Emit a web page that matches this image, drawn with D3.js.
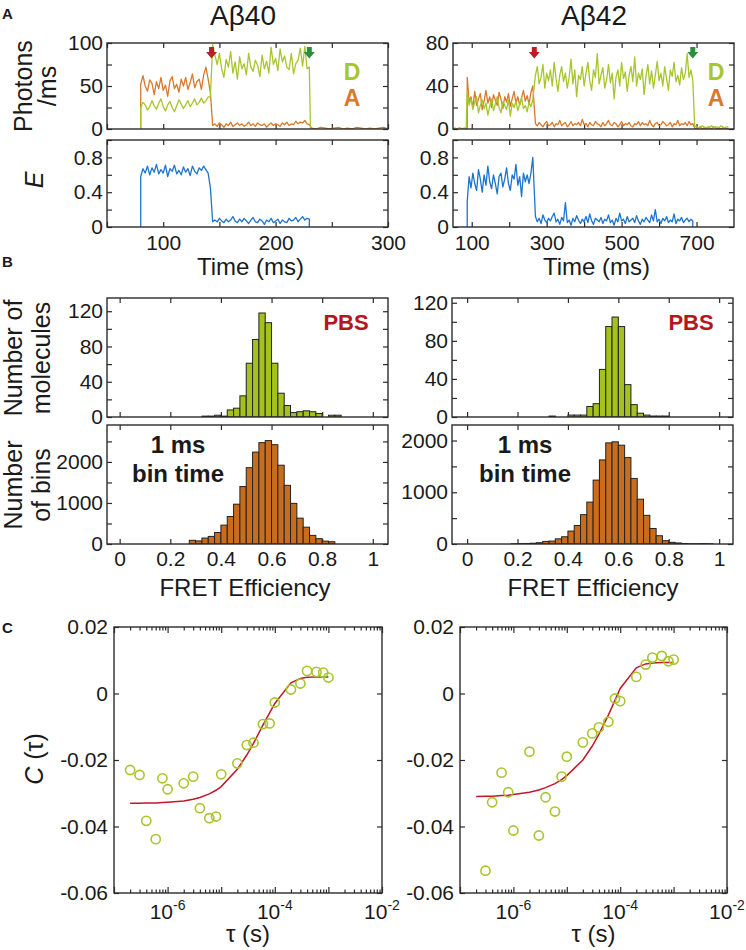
<!DOCTYPE html>
<html lang="en">
<head>
<meta charset="UTF-8">
<title>Abeta40 / Abeta42 single-molecule FRET</title>
<script src="https://cdnjs.cloudflare.com/ajax/libs/d3/7.8.5/d3.min.js"></script>
<style>
  body { margin: 0; background: #fff; }
  svg { display: block; font-family: "Liberation Sans", Arial, sans-serif; }
  .frame { fill: none; stroke: #2b2b2b; stroke-width: 1.4; }
</style>
</head>
<body>
<svg id="fig" width="746" height="950"></svg>
<script>
// ---- panel A: photon traces (photons/ms) and FRET efficiency ----
// Abeta40, 2 ms steps
const on40 = 80, bleachA40 = 143, bleachD40 = 230;
const d40Pre = [25, 31, 28, 22, 26, 33, 27, 23, 30, 35, 26, 21, 28, 32, 25, 20, 27, 34, 29, 24,
                28, 33, 26, 30, 35, 28, 31, 36, 30, 33, 37, 38];
const a40Pre = [52, 62, 50, 44, 57, 53, 40, 55, 47, 60, 45, 51, 38, 56, 61, 47, 52, 43, 58, 50,
                60, 46, 54, 64, 48, 55, 58, 46, 63, 72, 58, 42];
const d40Post = [98, 86, 75, 88, 70, 60, 81, 72, 90, 65, 78, 58, 84, 70, 76, 63, 88, 72, 67, 80,
                 74, 61, 86, 70, 79, 65, 95, 75, 82, 68, 93, 78, 85, 72, 69, 88, 64, 76, 80, 94,
                 73, 96, 70, 72];
const a40Post = [4, 6, 3, 7, 5, 2, 6, 4, 8, 3, 5, 7, 4, 6, 3, 5, 8, 4, 6, 3,
                 7, 5, 4, 6, 2, 5, 7, 4, 6, 5, 3, 7, 5, 8, 4, 6, 5, 9, 6, 8,
                 7, 10, 6, 5];
const a40Tail = [1, 0, 2, 1, 0, 1, 2, 0, 1, 0, 2, 1, 0, 1, 0, 1, 2, 0];
const e40Pre = [0.58, 0.67, 0.62, 0.70, 0.60, 0.68, 0.63, 0.72, 0.61, 0.66, 0.62, 0.71, 0.58, 0.67, 0.64, 0.71,
                0.61, 0.65, 0.60, 0.69, 0.63, 0.67, 0.59, 0.70, 0.64, 0.61, 0.68, 0.65, 0.70, 0.66, 0.62, 0.45];
const e40Post = [0.06, 0.08, 0.06, 0.10, 0.07, 0.05, 0.09, 0.06, 0.08, 0.12, 0.07, 0.05, 0.09, 0.06, 0.10,
                 0.07, 0.04, 0.08, 0.11, 0.06, 0.05, 0.09, 0.07, 0.03, 0.08, 0.06, 0.10, 0.05, 0.07, 0.09,
                 0.04, 0.08, 0.06, 0.05, 0.10, 0.07, 0.08, 0.11, 0.06, 0.09, 0.12, 0.08, 0.10, 0.09];

// Abeta42, 5 ms steps
const on42 = 88, bleachA42 = 267, bleachD42 = 690;
const d42Lead = [0, 1, 0, 1, 1, 0, 1, 0];
const d42Pre = [35, 22, 28, 18, 25, 30, 15, 22, 27, 19, 24, 13, 21, 28, 17, 23, 30, 20,
                15, 25, 22, 18, 27, 12, 24, 20, 26, 17, 23, 29, 19, 22, 16, 25, 21, 27];
const a42Pre = [48, 25, 30, 20, 35, 22, 28, 33, 18, 26, 36, 24, 30, 20, 32, 27, 22, 34,
                28, 19, 30, 25, 33, 21, 28, 35, 24, 30, 22, 29, 36, 26, 31, 23, 34, 40];
const d42Post = [50, 58, 42, 48, 60, 38, 52, 45, 55, 40, 62, 47, 35, 50, 58, 44, 52, 38, 48, 65,
                 42, 55, 30, 50, 46, 58, 40, 52, 62, 45, 36, 55, 48, 70, 42, 50, 57, 38, 46, 60,
                 43, 52, 28, 48, 55, 40, 62, 47, 53, 35, 50, 58, 44, 67, 40, 52, 46, 56, 32, 49,
                 60, 42, 54, 38, 50, 63, 45, 52, 40, 58, 47, 36, 55, 49, 62, 44, 50, 41, 57, 46,
                 52, 70, 48, 55, 45];
const a42Post = [5, 3, 6, 4, 2, 5, 7, 3, 4, 6, 2, 5, 4, 8, 3, 5, 6, 2, 4, 7,
                 3, 5, 4, 6, 3, 9, 4, 5, 2, 6, 4, 3, 7, 5, 4, 2, 6, 3, 5, 8,
                 4, 3, 6, 5, 2, 4, 7, 3, 5, 4, 6, 3, 2, 5, 4, 7, 3, 6, 4, 5,
                 3, 8, 4, 2, 5, 6, 3, 4, 7, 5, 3, 4, 6, 2, 5, 4, 8, 3, 5, 4,
                 6, 3, 7, 4, 5];
const d42Tail = [3, 2, 1, 2, 3, 2, 1, 2, 2, 3, 1, 2, 2, 1, 3, 2, 1, 2, 2];
const a42Tail = [1, 0, 1, 2, 0, 1, 0, 1, 1, 0, 2, 1, 0, 1, 0, 1, 1, 0, 1];
const e42Pre = [0.30, 0.58, 0.45, 0.62, 0.50, 0.42, 0.66, 0.55, 0.40, 0.60, 0.48, 0.70,
                0.52, 0.44, 0.60, 0.50, 0.38, 0.58, 0.62, 0.46, 0.55, 0.68, 0.50, 0.42,
                0.60, 0.55, 0.72, 0.48, 0.58, 0.35, 0.62, 0.52, 0.60, 0.50, 0.62, 0.80];
const e42Post = [0.12, 0.06, 0.10, 0.04, 0.14, 0.08, 0.05, 0.10, 0.07, 0.12, 0.16, 0.06, 0.09, 0.03, 0.11,
                 0.07, 0.28, 0.05, 0.08, 0.02, 0.10, 0.06, 0.13, 0.08, 0.04, 0.09, 0.06, 0.12, 0.05, 0.15,
                 0.07, 0.03, 0.10, 0.08, 0.06, 0.11, 0.04, 0.09, 0.07, 0.14, 0.05, 0.08, 0.02, 0.10, 0.06,
                 0.16, 0.07, 0.09, 0.04, 0.12, 0.06, 0.08, 0.10, 0.05, 0.13, 0.07, 0.03, 0.09, 0.06, 0.11,
                 0.08, 0.05, 0.14, 0.07, 0.20, 0.06, 0.09, 0.04, 0.10, 0.07, 0.12, 0.05, 0.08, 0.06, 0.15,
                 0.04, 0.09, 0.07, 0.11, 0.05, 0.08, 0.10, 0.06, 0.09, 0.07];

// ---- panel B: FRET efficiency histograms, bin width 0.025 ----
const binW = 0.025;
const pbs40Lo = 0.325, pbs40 = [1, 1, 2, 1, 8, 10, 24, 61, 88, 118, 107, 61, 27, 13, 5, 6, 7, 6, 4, 0, 2, 2];
const ms40Lo = 0.275, ms40 = [90, 75, 145, 185, 280, 460, 670, 970, 1400, 1860, 2240, 2470, 2520, 2420,
                              1920, 1430, 990, 630, 410, 210, 130, 70, 55];
const pbs42Lo = 0.325, pbs42 = [1, 0, 0, 2, 2, 2, 11, 14, 50, 95, 105, 95, 34, 13, 4, 2, 1, 1, 1];
const ms42Lo = 0.175, ms42 = [5, 8, 10, 15, 25, 50, 57, 100, 140, 250, 357, 567, 810, 1235, 1625, 1955,
                              1975, 1910, 1670, 1267, 866, 554, 300, 160, 64, 32, 20, 10, 5, 5, 8, 5];

// ---- panel C: FRET correlation C(tau) ----
const tauFit = [2e-7, 3e-7, 4e-7, 6e-7, 8e-7, 1e-6, 2e-6, 3e-6, 4e-6, 6e-6, 8e-6, 1e-5,
                2e-5, 3e-5, 4e-5, 6e-5, 8e-5, 1e-4, 2e-4, 3e-4, 4e-4, 6e-4, 8e-4, 1e-3];
const tau40 = tauFit;
const c40 = [-0.0230, -0.0245, -0.0383, -0.0438, -0.0255, -0.0288, -0.0270, -0.0250, -0.0345, -0.0375,
             -0.0370, -0.0243, -0.0210, -0.0155, -0.0148, -0.0092, -0.0090, -0.0027, 0.0012, 0.0030,
             0.0068, 0.0065, 0.0063, 0.0048];
const fit40 = [-0.0330, -0.0330, -0.0329, -0.0329, -0.0328, -0.0327, -0.0323, -0.0318, -0.0313, -0.0302,
               -0.0291, -0.0280, -0.0228, -0.0185, -0.0150, -0.0095, -0.0058, -0.0030, 0.0032, 0.0045,
               0.0049, 0.0050, 0.0050, 0.0050];
const tau42 = tauFit.slice(1);
const c42 = [-0.0533, -0.0327, -0.0238, -0.0297, -0.0412, -0.0175, -0.0427, -0.0312, -0.0355, -0.0250,
             -0.0190, -0.0147, -0.0120, -0.0102, -0.0085, -0.0015, -0.0023, 0.0050, 0.0087, 0.0108,
             0.0113, 0.0097, 0.0102];
const fit42 = [-0.0310, -0.0309, -0.0309, -0.0307, -0.0306, -0.0304, -0.0297, -0.0290, -0.0283, -0.0271,
               -0.0259, -0.0247, -0.0200, -0.0158, -0.0122, -0.0065, -0.0020, 0.0015, 0.0077, 0.0089,
               0.0092, 0.0093, 0.0093, 0.0093];

const green = "#a7c62c", orange = "#d8792b", blue = "#1d74cc";
const histGreen = "#a3c21f", histOrange = "#c96d1d", fitRed = "#c0182a";
const ink = "#2b2b2b";
const tickFont = 21, titleFont = 24;

const svg = d3.select("#fig");
let clipN = 0;

const seg = (t0, dt, vals) => vals.map((v, i) => ({ t: t0 + i * dt, v }));
const only = list => v => list.some(s => Math.abs(s - v) < 1e-9) ? String(+v.toFixed(3)) : "";

function tidy(g) {
  g.attr("font-family", null).attr("font-size", tickFont).attr("color", ink);
  g.select(".domain").remove();
  g.selectAll("line").attr("stroke-width", 1.2);
  g.selectAll("text").attr("fill", "#1a1a1a");
}

function axes(x, y, o) {
  const [x0, x1] = x.range(), [yb, yt] = y.range();
  const len = o.len || 5;
  svg.append("g").attr("transform", `translate(0,${yb})`)
    .call(d3.axisBottom(x).tickValues(o.xTicks).tickSize(-len).tickPadding(o.xPad || 8).tickFormat(o.xFmt || ""))
    .call(tidy);
  svg.append("g").attr("transform", `translate(0,${yt})`)
    .call(d3.axisTop(x).tickValues(o.xTicks).tickSize(-len).tickFormat(""))
    .call(tidy);
  svg.append("g").attr("transform", `translate(${x0},0)`)
    .call(d3.axisLeft(y).tickValues(o.yTicks).tickSize(-5).tickPadding(o.yPad || 4).tickFormat(o.yFmt || ""))
    .call(tidy);
  svg.append("g").attr("transform", `translate(${x1},0)`)
    .call(d3.axisRight(y).tickValues(o.yTicks).tickSize(-5).tickFormat(""))
    .call(tidy);
}

function frame(x, y) {
  const [x0, x1] = x.range(), [yb, yt] = y.range();
  svg.append("rect").attr("class", "frame")
    .attr("x", x0).attr("y", yt).attr("width", x1 - x0).attr("height", yb - yt);
}

function clip(x, y) {
  const [x0, x1] = x.range(), [yb, yt] = y.range();
  const id = "clip" + (clipN++);
  svg.append("clipPath").attr("id", id).append("rect")
    .attr("x", x0).attr("y", yt).attr("width", x1 - x0).attr("height", yb - yt);
  return `url(#${id})`;
}

function trace(x, y, data, color) {
  svg.append("path").datum(data)
    .attr("clip-path", clip(x, y))
    .attr("fill", "none").attr("stroke", color).attr("stroke-width", 1.3)
    .attr("stroke-linejoin", "round")
    .attr("d", d3.line().x(d => x(d.t)).y(d => y(d.v)));
}

function arrow(cx, top, color) {
  svg.append("path")
    .attr("d", `M${cx - 2.5},${top}H${cx + 2.5}V${top + 5}H${cx + 5.5}L${cx},${top + 11.5}L${cx - 5.5},${top + 5}H${cx - 2.5}Z`)
    .attr("fill", color);
}

function vtext(x, y, parts, size) {
  const t = svg.append("text").attr("transform", `translate(${x},${y}) rotate(-90)`)
    .attr("text-anchor", "middle").attr("font-size", size || 25).attr("fill", "#1a1a1a");
  parts.forEach(p => t.append("tspan").attr("font-style", p.italic ? "italic" : null).text(p.s));
}

function label(x, y, s, o) {
  svg.append("text").attr("x", x).attr("y", y).attr("text-anchor", o.anchor || "middle")
    .attr("font-size", o.size).attr("font-weight", o.bold ? "bold" : null)
    .attr("fill", o.color || "#1a1a1a").text(s);
}

// ---------------- Panel A ----------------
function panelA(cfg) {
  const x = d3.scaleLinear().domain(cfg.xDom).range(cfg.xr);
  const yP = d3.scaleLinear().domain([0, cfg.pMax]).range([129, 43]);
  const yE = d3.scaleLinear().domain([0, 1]).range([227, 140]);

  axes(x, yP, { xTicks: cfg.xTicks, yTicks: d3.range(0, cfg.pMax + 1, cfg.pMax / 4), yFmt: only([0, cfg.pMax / 2, cfg.pMax]) });
  trace(x, yP, cfg.acceptor, orange);
  trace(x, yP, cfg.donor, green);
  frame(x, yP);

  axes(x, yE, { xTicks: cfg.xTicks, xPad: 8.5, xFmt: only(cfg.xLabels), yTicks: d3.range(0, 1.01, 0.2), yFmt: only([0, 0.4, 0.8]) });
  trace(x, yE, cfg.eff, blue);
  frame(x, yE);

  arrow(x(cfg.bleachA), 47, "#b81f26");
  arrow(x(cfg.bleachD), 47, "#2a8f3c");
  label(cfg.dx, 80, "D", { size: 23, bold: true, color: green });
  label(cfg.dx, 106, "A", { size: 23, bold: true, color: orange });
  label(d3.mean(cfg.xr) + 3, 275, "Time (ms)", { size: titleFont });
  label(cfg.titleX, 25, cfg.title, { size: 28 });
}

panelA({
  title: "A\u03b240", titleX: 243, xr: [107, 388], xDom: [50, 300], pMax: 100, dx: 352,
  xTicks: d3.range(50, 301, 50), xLabels: [100, 200, 300],
  bleachA: bleachA40, bleachD: bleachD40,
  donor: [{ t: on40, v: 0 }, ...seg(on40, 2, d40Pre), ...seg(144, 2, d40Post), { t: bleachD40 + 1, v: 0 }],
  acceptor: [{ t: on40, v: 0 }, ...seg(on40, 2, a40Pre), ...seg(144, 2, a40Post), ...seg(232, 4, a40Tail)],
  eff: [{ t: on40, v: 0 }, ...seg(on40, 2, e40Pre), ...seg(144, 2, e40Post), { t: bleachD40, v: 0 }]
});

panelA({
  title: "A\u03b242", titleX: 594, xr: [453, 734], xDom: [50, 800], pMax: 80, dx: 716,
  xTicks: d3.range(100, 701, 100), xLabels: [100, 300, 500, 700],
  bleachA: bleachA42, bleachD: bleachD42,
  donor: [...seg(50, 5, d42Lead), ...seg(on42, 5, d42Pre), ...seg(270, 5, d42Post), ...seg(695, 5, d42Tail)],
  acceptor: [{ t: on42, v: 0 }, ...seg(on42, 5, a42Pre), ...seg(270, 5, a42Post), ...seg(695, 5, a42Tail)],
  eff: [{ t: on42, v: 0 }, ...seg(on42, 5, e42Pre), ...seg(270, 5, e42Post), { t: bleachD42, v: 0 }]
});

vtext(32, 86, [{ s: "Photons" }]);
vtext(56, 86, [{ s: "/ms" }]);
vtext(43, 180, [{ s: "E", italic: true }]);

// ---------------- Panel B ----------------
function hist(x, y, lo, counts, fill) {
  const bins = counts.map((c, i) => ({ a: lo + i * binW, b: lo + (i + 1) * binW, c })).filter(d => d.c > 0);
  svg.append("g").attr("clip-path", clip(x, y)).selectAll("rect").data(bins).join("rect")
    .attr("x", d => x(d.a)).attr("width", d => x(d.b) - x(d.a))
    .attr("y", d => y(d.c)).attr("height", d => y(0) - y(d.c))
    .attr("fill", fill).attr("stroke", "#222").attr("stroke-width", 1);
}

function panelB(cfg) {
  const x = d3.scaleLinear().domain(cfg.xDom).range(cfg.xr);
  const yT = d3.scaleLinear().domain([0, cfg.topMax]).range([417, 298]);
  const yB = d3.scaleLinear().domain([0, cfg.botMax]).range([544, 425]);
  const fTicks = d3.range(0, 1.01, 0.2);

  axes(x, yT, { xTicks: fTicks, yTicks: d3.range(0, cfg.topMax, 20), yFmt: only([0, 40, 80, 120]) });
  hist(x, yT, cfg.pbsLo, cfg.pbs, histGreen);
  frame(x, yT);

  axes(x, yB, { xTicks: fTicks, xPad: 7, xFmt: only(fTicks), yTicks: d3.range(0, cfg.botMax, 500), yFmt: only([0, 1000, 2000]) });
  hist(x, yB, cfg.msLo, cfg.ms, histOrange);
  frame(x, yB);

  label(cfg.pbsX, 330, "PBS", { size: 22, bold: true, color: "#b5151d" });
  label(cfg.msX, 453, "1 ms", { size: 24, bold: true });
  label(cfg.msX, 482, "bin time", { size: 24, bold: true });
  label(cfg.fretX, 596, "FRET Efficiency", { size: titleFont });
}

panelB({ xr: [107, 388], xDom: [-0.05, 1.06], topMax: 135, botMax: 2900,
         pbsLo: pbs40Lo, pbs: pbs40, msLo: ms40Lo, ms: ms40, pbsX: 346, msX: 178, fretX: 245 });
panelB({ xr: [452, 733], xDom: [-0.06, 1.055], topMax: 125, botMax: 2300,
         pbsLo: pbs42Lo, pbs: pbs42, msLo: ms42Lo, ms: ms42, pbsX: 691, msX: 525, fretX: 593 });

vtext(22, 358, [{ s: "Number of" }]);
vtext(50, 358, [{ s: "molecules" }]);
vtext(22, 485, [{ s: "Number" }]);
vtext(50, 485, [{ s: "of bins" }]);

// ---------------- Panel C ----------------
function panelC(cfg) {
  const x = d3.scaleLog().domain([1e-7, 1e-2]).range(cfg.xr);
  const y = d3.scaleLinear().domain([-0.06, 0.02]).range([893, 627]);
  const [yb, yt] = y.range();
  const decades = [1e-7, 1e-6, 1e-5, 1e-4, 1e-3, 1e-2];
  const minor = x.ticks().filter(v => !decades.some(d => Math.abs(d - v) / d < 1e-6));

  axes(x, y, { xTicks: decades, len: 6, yTicks: [-0.06, -0.04, -0.02, 0, 0.02], yPad: 6, yFmt: only([-0.06, -0.04, -0.02, 0, 0.02]) });
  svg.append("g").attr("transform", `translate(0,${yb})`)
    .call(d3.axisBottom(x).tickValues(minor).tickSize(-3.5).tickFormat("")).call(tidy);
  svg.append("g").attr("transform", `translate(0,${yt})`)
    .call(d3.axisTop(x).tickValues(minor).tickSize(-3.5).tickFormat("")).call(tidy);

  [[1e-6, "-6"], [1e-4, "-4"], [1e-2, "-2"]].forEach(([v, e]) => {
    const t = svg.append("text").attr("x", x(v)).attr("y", yb + 26).attr("text-anchor", "middle")
      .attr("font-size", tickFont).attr("fill", "#1a1a1a");
    t.append("tspan").text("10");
    t.append("tspan").attr("font-size", 14).attr("dy", -9).text(e);
  });

  svg.append("path").datum(tauFit.map((t, i) => ({ t, v: cfg.fit[i] })))
    .attr("fill", "none").attr("stroke", fitRed).attr("stroke-width", 1.5)
    .attr("d", d3.line().x(d => x(d.t)).y(d => y(d.v)));
  svg.append("g").selectAll("circle").data(cfg.tau.map((t, i) => ({ t, v: cfg.c[i] }))).join("circle")
    .attr("cx", d => x(d.t)).attr("cy", d => y(d.v)).attr("r", 4.6)
    .attr("fill", "none").attr("stroke", green).attr("stroke-width", 1.6);
  frame(x, y);

  svg.append("text").attr("x", d3.mean(cfg.xr)).attr("y", 942).attr("text-anchor", "middle")
    .attr("font-size", titleFont).attr("fill", "#1a1a1a").text("\u03c4 (s)");
}

panelC({ xr: [114, 382], tau: tau40, c: c40, fit: fit40 });
panelC({ xr: [460, 727], tau: tau42, c: c42, fit: fit42 });

vtext(43, 759, [{ s: "C", italic: true }, { s: " (\u03c4)" }]);

// panel letters
label(2, 19, "A", { size: 15, bold: true, anchor: "start" });
label(2, 267, "B", { size: 15, bold: true, anchor: "start" });
label(2, 633, "C", { size: 15, bold: true, anchor: "start" });
</script>
</body>
</html>
